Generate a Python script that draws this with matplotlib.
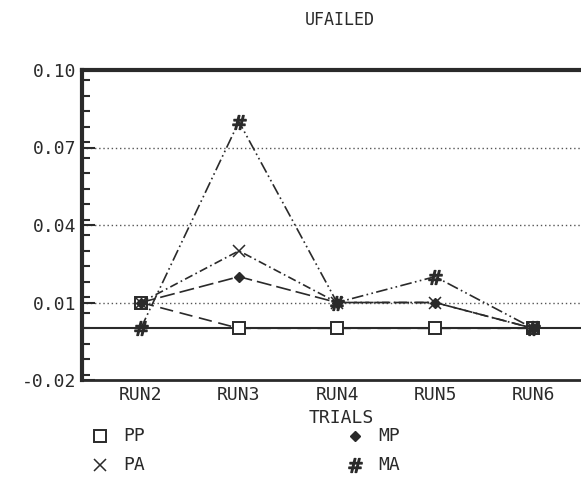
import matplotlib
matplotlib.use("Agg")
import matplotlib.pyplot as plt
from matplotlib.lines import Line2D
from matplotlib.ticker import MultipleLocator, FixedLocator

# Failure rate by trial for each condition
trials = ["RUN2", "RUN3", "RUN4", "RUN5", "RUN6"]
pp = [0.01, 0.00, 0.00, 0.00, 0.00]
pa = [0.01, 0.03, 0.01, 0.01, 0.00]
mp = [0.01, 0.02, 0.01, 0.01, 0.00]
ma = [0.00, 0.08, 0.01, 0.02, 0.00]
series_names = ["PP", "PA", "MP", "MA"]
y_ticks = [-0.02, 0.01, 0.04, 0.07, 0.10]

INK = "#2a2a2a"
FONT = "DejaVu Sans Mono"
plt.rcParams["font.family"] = FONT

W, H = 581, 483
fig = plt.figure(figsize=(W / 100, H / 100), dpi=100)
ax_top, ax_bottom, ax_left, ax_right = 70, 380, 82, 592
ax = fig.add_axes([ax_left / W, (H - ax_bottom) / H,
                   (ax_right - ax_left) / W, (ax_bottom - ax_top) / H])

x = list(range(len(trials)))
styles = {
    "PP": dict(marker="s", ms=8, mfc="white", mec=INK, mew=1.4, ls=(0, (8, 4))),
    "PA": dict(marker="x", ms=8, mec=INK, mew=1.1, ls=(0, (5, 2, 1, 2))),
    "MP": dict(marker="D", ms=5.5, mfc=INK, mec=INK, ls=(0, (9, 3))),
    "MA": dict(marker=r"$\#$", ms=10, mfc=INK, mec=INK, mew=1.0,
               ls=(0, (7, 2, 1, 2, 1, 2))),
}
layer = {"PP": 2, "PA": 3, "MP": 4, "MA": 5}
values = {"PP": pp, "PA": pa, "MP": mp, "MA": ma}

# zero reference line and dotted grid
ax.axhline(0, color=INK, lw=1.5, zorder=1)
for g in [0.01, 0.04, 0.07]:
    ax.axhline(g, color="#555555", lw=1.0, ls=(0, (1, 2)), zorder=0)

for name in series_names:
    ax.plot(x, values[name], color=INK, lw=1.2, zorder=layer[name], **styles[name])

ax.set_xlim(-0.6, 4.6)
ax.set_ylim(-0.02, 0.10)
ax.xaxis.set_major_locator(FixedLocator(x))
ax.set_xticklabels(trials)
ax.yaxis.set_major_locator(FixedLocator(y_ticks))
ax.yaxis.set_minor_locator(MultipleLocator(0.006))
ax.set_yticklabels([f"{v:.2f}" for v in y_ticks])

ax.tick_params(axis="x", length=0, pad=4, labelsize=13, colors=INK)
ax.tick_params(axis="y", which="major", direction="in", length=9, width=1.5,
               labelsize=13, colors=INK, pad=4)
ax.tick_params(axis="y", which="minor", direction="in", length=6, width=1.5,
               colors=INK)

ax.spines["top"].set_linewidth(3.0)
ax.spines["left"].set_linewidth(3.0)
ax.spines["bottom"].set_linewidth(2.0)
ax.spines["right"].set_visible(False)
for s in ax.spines.values():
    s.set_color(INK)

ax.set_xlabel("TRIALS", fontsize=13, color=INK, va="center")
ax.xaxis.set_label_coords((341 - ax_left) / (ax_right - ax_left),
                          (ax_bottom - 418) / (ax_bottom - ax_top))
fig.text(340 / W, 1 - 20 / H, "UFAILED", ha="center", va="center",
         fontsize=12, color=INK)

# legend laid out in two columns below the axis
legend_pos = {"PP": (100, 436), "PA": (100, 465), "MP": (355, 436), "MA": (355, 465)}
for name in series_names:
    mx, my = legend_pos[name]
    st = dict(styles[name])
    st.pop("ls")
    fig.add_artist(Line2D([mx / W], [1 - my / H], transform=fig.transFigure,
                          color=INK, ls="none", **st))
    fig.text((mx + 23) / W, 1 - my / H, name, ha="left", va="center",
             fontsize=13, color=INK)

fig.savefig("out.png", dpi=100, facecolor="white")
